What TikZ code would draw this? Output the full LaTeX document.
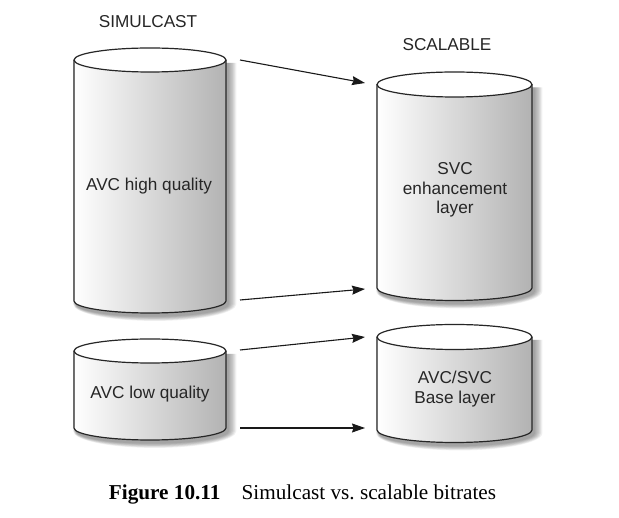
\documentclass[tikz,border=0pt]{standalone}
\usepackage{fontspec}
\setmainfont{Liberation Sans}
\newfontfamily\capfont{Liberation Serif}
\usetikzlibrary{arrows.meta}
\definecolor{ink}{HTML}{262626}
\tikzset{
  lbl/.style={text=ink, font=\fontsize{17.2}{19.5}\selectfont, align=center, inner sep=0pt},
  outl/.style={draw=ink, line width=1.2pt},
  flow/.style={draw=black!90, line width=1.1pt, -{Stealth[length=13pt,width=9pt,inset=1.5pt]}},
}
% \cylshape{cx}{ytop}{ybot}{rx}{ry}{name}
\newcommand{\cylshape}[6]{%
  \foreach \s in {7,6,...,1}{
    \fill[black, opacity=0.06]
      ({#1-#4-\s*0.4+2},{#2-3}) -- ({#1-#4-\s*0.4+2},{#3-3})
      arc[start angle=180,end angle=360,x radius={#4+\s*0.8},y radius={#5+\s*0.7}]
      -- ({#1+#4+\s*1.2+2},{#2-3}) -- cycle;
  }
  \shade[left color=white, right color=black!30]
    ({#1-#4},#2) -- ({#1-#4},#3) arc[start angle=180,end angle=360,x radius=#4,y radius=#5]
    -- ({#1+#4},#2) -- cycle;
  \draw[outl] ({#1-#4},#2) -- ({#1-#4},#3) arc[start angle=180,end angle=360,x radius=#4,y radius=#5]
    -- ({#1+#4},#2);
  \draw[outl, fill=white] (#1,#2) ellipse[x radius=#4, y radius=#5];
  \node[inner sep=0pt, minimum width={2*#4}, minimum height={#2-#3+2*#5}] (#6) at (#1,{(#2+#3)/2}) {};
}
\begin{document}
\begin{tikzpicture}[x=1pt,y=1pt]
\useasboundingbox (0,0) rectangle (619,-518);
\fill[white] (0,0) rectangle (619,-518);

\cylshape{150}{-60}{-301}{76}{12}{hq}
\cylshape{150}{-351}{-428}{76}{12}{lq}
\cylshape{454.5}{-84.5}{-288}{77.5}{12.5}{enh}
\cylshape{454.5}{-337}{-430}{77.5}{12.5}{base}

\node[lbl] (simul) at (148,-22) {SIMULCAST};
\node[lbl] (scal) at (447,-45) {SCALABLE};
\node[lbl] (hqt) at (149,-186) {AVC high quality};
\node[lbl] (lqt) at (150,-394) {AVC low quality};
\node[lbl] (enht) at (455,-190) {SVC\\enhancement\\layer};
\node[lbl] (baset) at (455,-389) {AVC/SVC\\Base layer};

\coordinate (a1s) at (240,-60);  \coordinate (a1e) at (365,-83);
\coordinate (a2s) at (240,-300); \coordinate (a2e) at (365,-289);
\coordinate (a3s) at (240,-350); \coordinate (a3e) at (365,-337);
\coordinate (a4s) at (240,-428); \coordinate (a4e) at (365,-428);
\draw[flow] (a1s) -- (a1e);
\draw[flow] (a2s) -- (a2e);
\draw[flow] (a3s) -- (a3e);
\draw[flow] (a4s) -- (a4e);

\node[inner sep=0pt, font=\capfont\fontsize{21.2}{24}\selectfont] (cap) at (302.5,-494)
  {\textbf{Figure 10.11}\quad Simulcast vs.\ scalable bitrates};
\end{tikzpicture}
\end{document}
